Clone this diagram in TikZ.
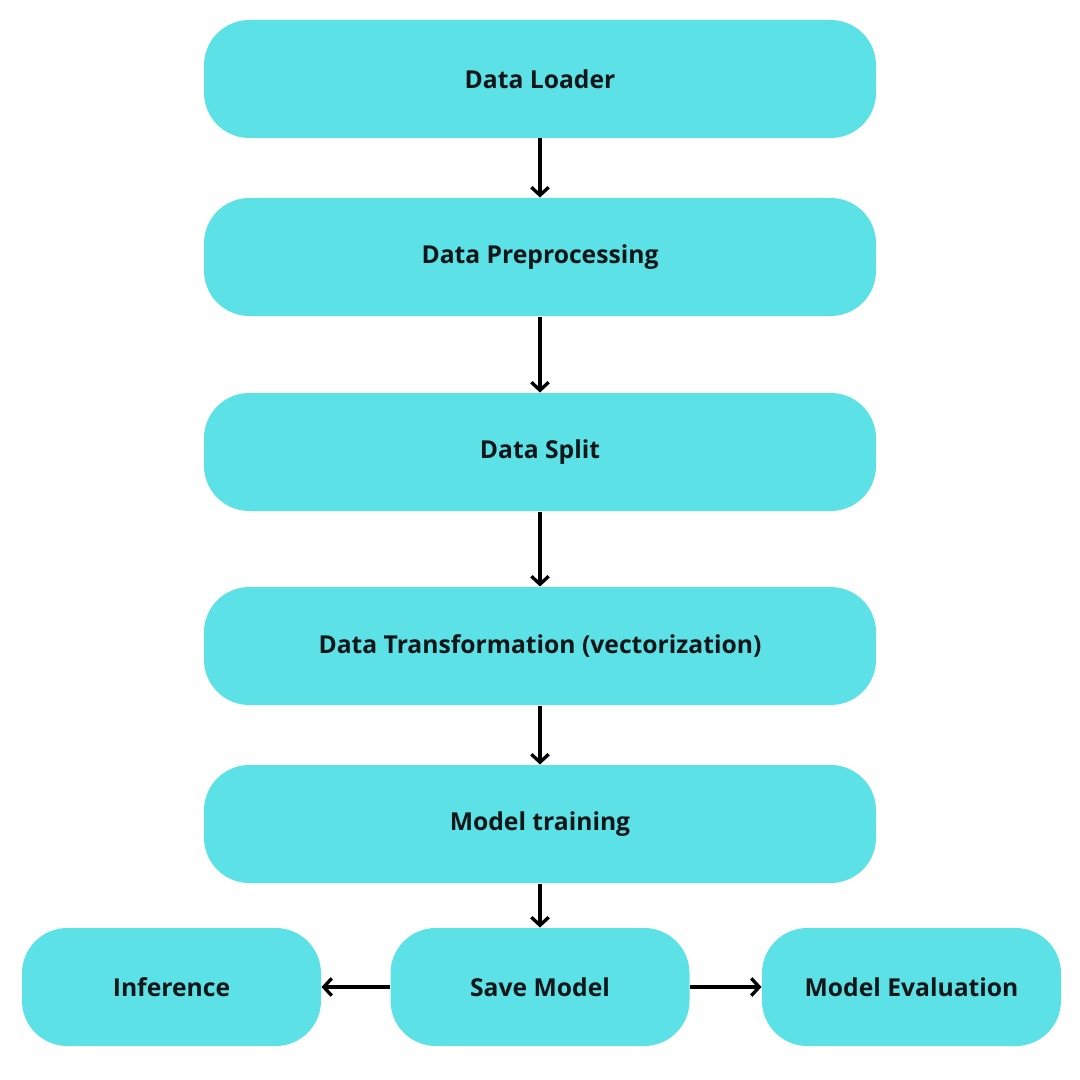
\documentclass[tikz,border=0pt]{standalone}
\usepackage{fontspec}
\setmainfont{Open Sans}
\usetikzlibrary{arrows.meta}

\definecolor{boxcyan}{RGB}{92,225,230}
\definecolor{inkdark}{RGB}{17,22,24}

\tikzset{every picture/.style={line width=0.75pt}}
\tikzset{
  stage/.style={fill=boxcyan, draw=none, rounded corners=34pt, inner sep=0.75pt,
    minimum width=504pt, minimum height=88.5pt, text=inkdark,
    font=\fontsize{18.5}{22}\selectfont\bfseries},
  smallstage/.style={stage, minimum width=224.25pt},
  flow/.style={line width=2.5pt, -{Straight Barb[length=6pt,width=13pt]}}
}

\begin{document}
\begin{tikzpicture}[x=0.75pt,y=0.75pt,yscale=-1,xscale=1]
%set diagram size 1080 x 1080
\useasboundingbox (0,0) rectangle (1080,1080);

%Shape: Rounded Rect [id:loader]
\node [stage] (loader) at (540,79) {Data Loader};
%Shape: Rounded Rect [id:preproc]
\node [stage] (preproc) at (540,257) {Data Preprocessing};
%Shape: Rounded Rect [id:split]
\node [stage] (split) at (540,452) {Data Split};
%Shape: Rounded Rect [id:transform]
\node [stage] (transform) at (540,646) {Data Transformation (vectorization)};
%Shape: Rounded Rect [id:training]
\node [stage] (training) at (540,824) {Model training};
%Shape: Rounded Rect [id:infer]
\node [smallstage] (infer) at (171.5,987) {Inference};
%Shape: Rounded Rect [id:save]
\node [smallstage] (save) at (540,987) {Save Model};
%Shape: Rounded Rect [id:evaluate]
\node [smallstage] (evaluate) at (911.5,987) {Model Evaluation};

%Straight Lines
\draw [flow] (loader) -- (preproc);
\draw [flow] (preproc) -- (split);
\draw [flow] (split) -- (transform);
\draw [flow] (transform) -- (training);
\draw [flow] (training) -- (save);
\draw [flow] (save) -- (infer);
\draw [flow] (save) -- (evaluate);

\end{tikzpicture}
\end{document}
